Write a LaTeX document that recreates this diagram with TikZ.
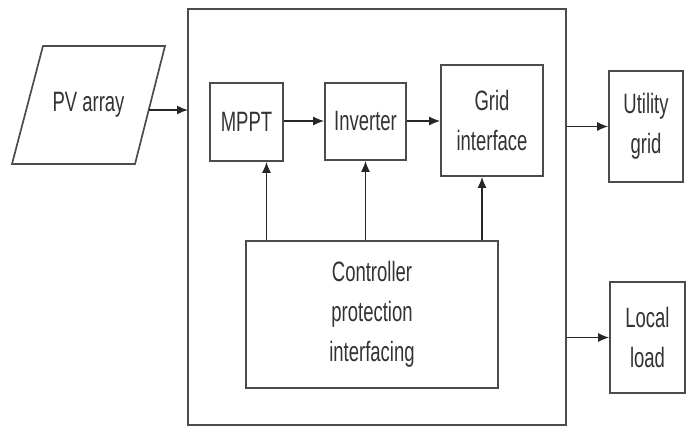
\documentclass[tikz,border=0pt]{standalone}
\usepackage{fontspec}
\setmainfont{Liberation Sans}[FakeStretch=0.66]
\usetikzlibrary{arrows.meta}

\begin{document}
\begin{tikzpicture}[x=1pt, y=-1pt,
    every node/.style={font=\fontsize{28}{40}\selectfont, text=black!80, align=center},
    blockB/.style={rectangle, draw=black!70, line width=1.7pt, inner sep=2pt},
    flow/.style={draw=black!85, line width=1.5pt, -{Latex[length=11pt, width=9pt]}}]

    \useasboundingbox (0,0) rectangle (686,428);

    % Enclosing converter
    \node[blockB, minimum width=378pt, minimum height=416pt] (conv) at (377, 217) {};

    % Source (parallelogram drawn round the label)
    \node (pv) at (88.5, 105) {PV array};
    \draw[draw=black!70, line width=1.7pt] (43,46) -- (165,46) -- (135,164) -- (12,164) -- cycle;

    % Inner stages
    \node[blockB, minimum width=73pt, minimum height=78pt] (mppt) at (246.5, 122) {MPPT};
    \node[blockB, minimum width=81pt, minimum height=77pt] (inv) at (365.5, 121.5) {Inverter};
    \node[blockB, minimum width=102pt, minimum height=111pt] (gridif) at (492, 120.5) {Grid\\interface};
    \node[blockB, minimum width=252pt, minimum height=147pt] (ctrl) at (372, 314.5) {Controller\\protection\\interfacing};

    % Outputs
    \node[blockB, minimum width=74pt, minimum height=111pt] (util) at (646, 126.5) {Utility\\grid};
    \node[blockB, minimum width=75pt, minimum height=111pt] (load) at (647.5, 337.5) {Local\\load};

    \coordinate (pvout) at (149, 110);
    \coordinate (pvin) at (188, 110);

    % Power path
    \draw[flow] (pvout) -- (pvin);
    \draw[flow] (mppt.east |- 0,121) -- (inv.west |- 0,121);
    \draw[flow] (inv.east |- 0,121) -- (gridif.west |- 0,121);
    \draw[flow] (conv.east |- util) -- (util);
    \draw[flow] (conv.east |- load) -- (load);

    % Control signals
    \draw[flow] ([xshift=20pt]mppt.south |- ctrl.north) -- ([xshift=20pt]mppt.south);
    \draw[flow] (inv.south |- ctrl.north) -- (inv.south);
    \draw[flow] ([xshift=-10pt]gridif.south |- ctrl.north) -- ([xshift=-10pt]gridif.south);

\end{tikzpicture}
\end{document}
